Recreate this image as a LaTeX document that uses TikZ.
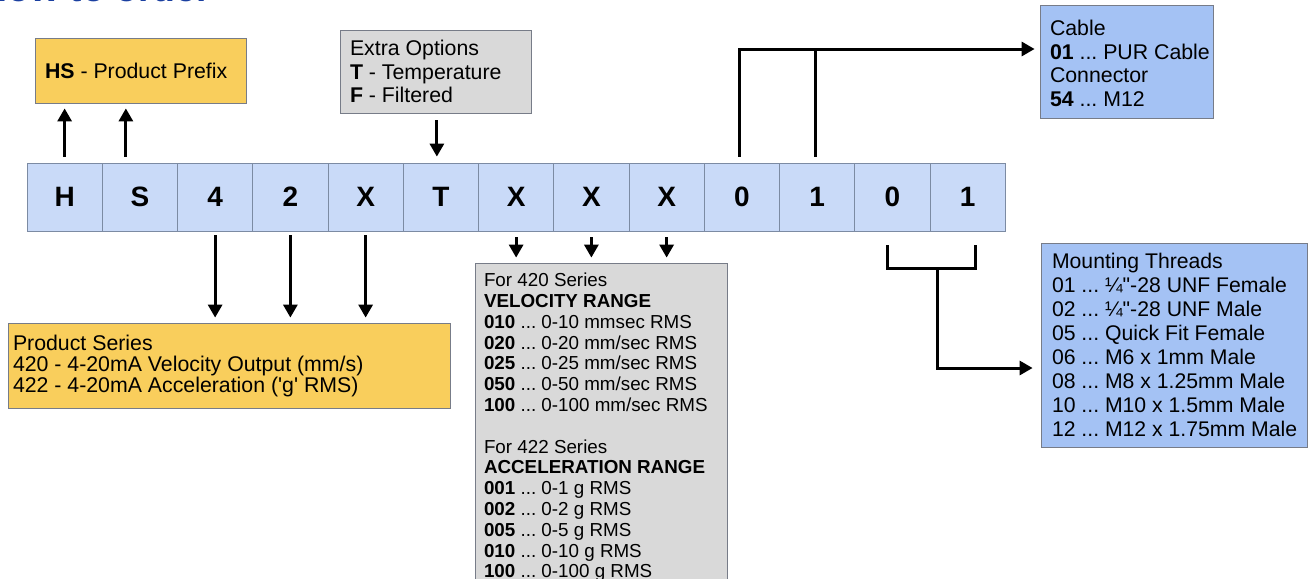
\documentclass[tikz,border=0pt]{standalone}
\usepackage{fontspec}
\setmainfont{Liberation Sans}
\usepackage{xcolor}
\usepackage{tikz}
\usetikzlibrary{arrows.meta, positioning, calc}

\definecolor{cellblue}{HTML}{C9DAF8}
\definecolor{cellline}{HTML}{7C8BA3}
\definecolor{optyellow}{HTML}{F9CE5C}
\definecolor{optgray}{HTML}{D9D9D9}
\definecolor{optblue}{HTML}{A4C2F4}
\definecolor{boxline}{HTML}{777C88}
\definecolor{titleblue}{HTML}{1A3FA0}

\begin{document}
\frenchspacing
\begin{tikzpicture}[
    x=0.5pt, y=-0.5pt,
    cell/.style={draw=cellline, fill=cellblue, minimum width=37.625pt, minimum height=34pt, inner sep=0pt, font=\bfseries\fontsize{14}{16}\selectfont},
    box/.style={draw=boxline, inner sep=0pt},
    boxtext/.style={inner sep=0pt, align=left, font=\fontsize{10.65}{11.75}\selectfont},
    arrow/.style={-{Triangle[length=6.5pt,width=7pt]}, line width=1.5pt},
    link/.style={line width=1.5pt}
]
\useasboundingbox (0,0) rectangle (1310,578);

% title, cut off at the top
\node[anchor=base west, inner sep=0pt, text=titleblue, font=\bfseries\fontsize{18.7}{20}\selectfont] (title) at (-20,2) {How to order};

% order code cells
\foreach \ch [count=\i] in {H,S,4,2,X,T,X,X,X,0,1,0,1}
    \node[cell] (c\i) at ({27+(\i-0.5)*75.25},197) {\ch};

% option boxes
\node[box, fill=optyellow, minimum width=105.5pt, minimum height=32.5pt] (prefix) at (140.5,70.5) {};
\node[boxtext, right=5pt of prefix.west] (prefixtext) {\textbf{HS} - Product Prefix};

\node[box, fill=optgray, minimum width=95.5pt, minimum height=41.5pt] (extra) at (435.5,71.5) {};
\node[boxtext, right=5pt of extra.west] (extratext) {Extra Options\\\textbf{T} - Temperature\\\textbf{F} - Filtered};

\node[box, fill=optblue, minimum width=86.5pt, minimum height=56.5pt] (cable) at (1126.5,61.5) {};
\node[boxtext, right=5pt of cable.west, yshift=-1pt] (cabletext) {Cable\\\textbf{01} ... PUR Cable\\Connector\\\textbf{54} ... M12};

\node[box, fill=optyellow, minimum width=221pt, minimum height=42.5pt] (series) at (229,365.5) {};
\node[boxtext, right=2.5pt of series.west, font=\fontsize{10.65}{10.5}\selectfont] (seriestext) {Product Series\\420 - 4-20mA Velocity Output (mm/s)\\422 - 4-20mA Acceleration (\textquotesingle g\textquotesingle\ RMS)};

\node[box, fill=optgray, minimum width=126pt, minimum height=164.5pt] (range) at (601,427.5) {};
\node[boxtext, right=4.5pt of range.west, font=\fontsize{9.4}{10.4}\selectfont] (rangetext) {For 420 Series\\\textbf{VELOCITY RANGE}\\\textbf{010} ... 0-10 mmsec RMS\\\textbf{020} ... 0-20 mm/sec RMS\\\textbf{025} ... 0-25 mm/sec RMS\\\textbf{050} ... 0-50 mm/sec RMS\\\textbf{100} ... 0-100 mm/sec RMS\\[10.4pt]For 422 Series\\\textbf{ACCELERATION RANGE}\\\textbf{001} ... 0-1 g RMS\\\textbf{002} ... 0-2 g RMS\\\textbf{005} ... 0-5 g RMS\\\textbf{010} ... 0-10 g RMS\\\textbf{100} ... 0-100 g RMS};

\node[box, fill=optblue, minimum width=133pt, minimum height=102pt] (mount) at (1174,345) {};
\node[boxtext, right=5.5pt of mount.west, font=\fontsize{10.6}{11.95}\selectfont] (mounttext) {Mounting Threads\\01 ... ¼\textquotedbl-28 UNF Female\\02 ... ¼\textquotedbl-28 UNF Male\\05 ... Quick Fit Female\\06 ... M6 x 1mm Male\\08 ... M8 x 1.25mm Male\\10 ... M10 x 1.5mm Male\\12 ... M12 x 1.75mm Male};

% prefix and extra options
\draw[arrow, shorten <=3pt, shorten >=2.5pt] (c1.north) -- (c1.north |- prefix.south);
\draw[arrow, shorten <=3pt, shorten >=2.5pt] ([xshift=-7pt]c2.north) -- ([xshift=-7pt]c2.north |- prefix.south);
\draw[arrow, shorten <=3.5pt, shorten >=3pt] ([xshift=-2pt]c6.north |- extra.south) -- ([xshift=-2pt]c6.north);

% series and range
\foreach \i in {3,4,5}
    \draw[arrow, shorten <=2pt, shorten >=2.5pt] (c\i.south) -- (c\i.south |- series.north);
\foreach \i in {7,8,9}
    \draw[arrow, shorten <=3pt, shorten >=2.5pt] (c\i.south) -- (c\i.south |- range.north);

% cable / connector
\coordinate (cablein) at ([yshift=6.25pt]cable.west);
\draw[arrow, shorten <=3pt, shorten >=2.5pt] ([xshift=-1pt]c10.north) |- (cablein);
\draw[link, shorten <=3pt] ([xshift=-1pt]c11.north) -- ([xshift=-1pt]c11.north |- cablein);

% mounting threads bracket
\draw[link] ([xshift=-2.5pt, yshift=-7pt]c12.south) |- ([xshift=4pt, yshift=-18.5pt]c13.south) -- ([xshift=4pt, yshift=-7pt]c13.south);
\coordinate (brk) at ($(c12.south)!0.5!(c13.south)+(7,37)$);
\coordinate (mountin) at ([yshift=-11.5pt]mount.west);
\draw[arrow, shorten >=4pt] (brk) |- (mountin);

\end{tikzpicture}
\end{document}
